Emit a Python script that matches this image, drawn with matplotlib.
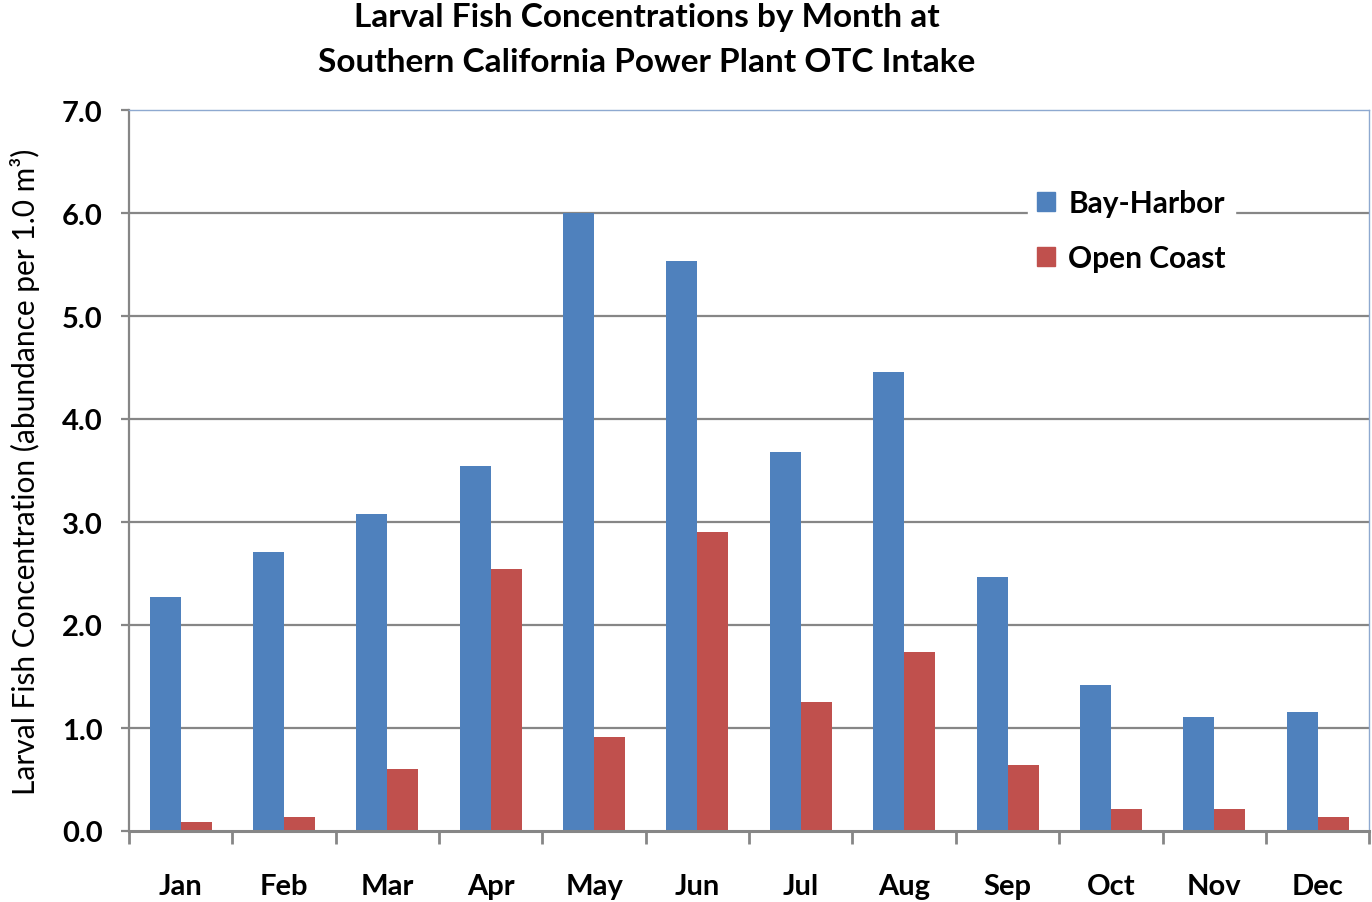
import numpy as np
import matplotlib
matplotlib.use('Agg')
import matplotlib.pyplot as plt
from matplotlib.patches import Patch

# data
months = ['Jan', 'Feb', 'Mar', 'Apr', 'May', 'Jun', 'Jul', 'Aug', 'Sep', 'Oct', 'Nov', 'Dec']
bay_harbor = [2.27, 2.71, 3.08, 3.54, 6.00, 5.53, 3.68, 4.46, 2.47, 1.42, 1.11, 1.16]
open_coast = [0.09, 0.14, 0.60, 2.54, 0.91, 2.90, 1.25, 1.74, 0.64, 0.21, 0.21, 0.14]
yticks = [0.0, 1.0, 2.0, 3.0, 4.0, 5.0, 6.0, 7.0]

blue = '#4F81BD'
red = '#C0504D'
grey = '#868686'

plt.rcParams['font.family'] = ['Lato', 'DejaVu Sans']

fig = plt.figure(figsize=(13.72, 9.03), dpi=100)
ax = fig.add_axes([129/1372, 71/903, 1 - 129/1372 - 0.002, (832-111)/903])

x = np.arange(len(months))
w = 0.3
ax.bar(x - w/2, bay_harbor, w, color=blue, zorder=3)
ax.bar(x + w/2, open_coast, w, color=red, zorder=3)

ax.set_xlim(-0.5, len(months) - 0.5)
ax.set_ylim(0, 7)

# grid
for yv in yticks[1:-1]:
    ax.axhline(yv, color=grey, lw=1.6, zorder=1)

# spines
for s in ['top', 'right']:
    ax.spines[s].set_color('#8EA9D0')
    ax.spines[s].set_linewidth(1.0)
ax.spines['left'].set_color(grey)
ax.spines['left'].set_linewidth(1.6)
ax.spines['bottom'].set_color(grey)
ax.spines['bottom'].set_linewidth(2.2)
ax.spines['bottom'].set_zorder(4)

ax.set_yticks(yticks)
ax.set_yticklabels([f'{v:.1f}' for v in yticks], fontsize=21, fontweight='bold')
ax.tick_params(axis='y', length=6, width=1.6, color=grey, pad=13)

ax.set_xticks(np.arange(len(months) + 1) - 0.5)
ax.set_xticklabels([])
ax.tick_params(axis='x', which='major', length=9, width=2, color=grey)
ax.set_xticks(x, minor=True)
ax.set_xticklabels(months, minor=True, fontsize=21, fontweight='bold')
ax.tick_params(axis='x', which='minor', length=0, pad=30)

ax.set_ylabel('Larval Fish Concentration (abundance per 1.0 m³)', fontsize=21.5, labelpad=16)

fig.text(647/1372, 1 - 18/903, 'Larval Fish Concentrations by Month at', ha='center', va='center',
         fontsize=24, fontweight='bold')
fig.text(647/1372, 1 - 63/903, 'Southern California Power Plant OTC Intake', ha='center', va='center',
         fontsize=24, fontweight='bold')

handles = [Patch(color=blue, label='Bay-Harbor'), Patch(color=red, label='Open Coast')]
leg = ax.legend(handles=handles, loc='upper left', bbox_to_anchor=(1013/1372, 1 - 166/903),
                bbox_transform=fig.transFigure, frameon=True, fontsize=21.5,
                handlelength=0.6, handleheight=0.6, handletextpad=0.45, labelspacing=0.9,
                borderpad=0.3, fancybox=False)
leg.get_frame().set_facecolor('white')
leg.get_frame().set_edgecolor('white')
leg.get_frame().set_alpha(1)
leg.set_zorder(5)
for t in leg.get_texts():
    t.set_fontweight('bold')

fig.savefig('out.png', dpi=100)
